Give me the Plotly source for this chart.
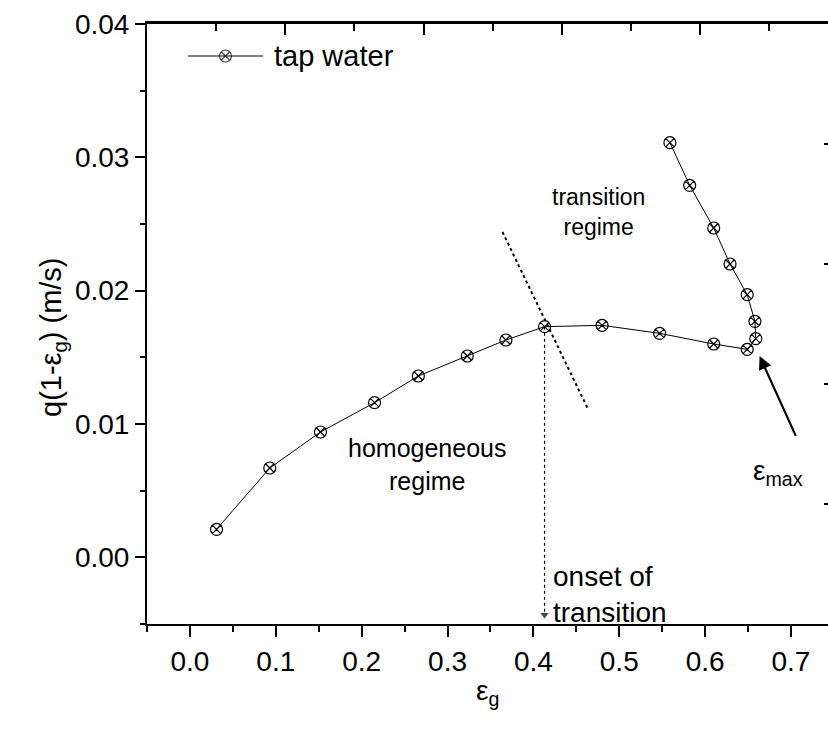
import plotly.graph_objects as go

# Gas holdup and drift-flux data for tap water
eps_g = [0.031, 0.093, 0.152, 0.215, 0.266, 0.323, 0.368, 0.413, 0.480, 0.547,
         0.610, 0.649, 0.659, 0.658, 0.649, 0.629, 0.610, 0.582, 0.559]
q_flux = [0.0021, 0.0067, 0.0094, 0.0116, 0.0136, 0.0151, 0.0163, 0.0173, 0.0174, 0.0168,
          0.0160, 0.0156, 0.0164, 0.0177, 0.0197, 0.0220, 0.0247, 0.0279, 0.0311]

# Transition boundary (dotted) and onset marker
boundary_x = [0.364, 0.463]
boundary_y = [0.0244, 0.0112]
onset_x = 0.413
onset_y = 0.0173
x_ticks = [0.0, 0.1, 0.2, 0.3, 0.4, 0.5, 0.6, 0.7]
y_ticks = [0.00, 0.01, 0.02, 0.03, 0.04]

FONT = "Liberation Sans, Arial, sans-serif"
W, H = 828, 740
L, R, T, B = 147, 0, 24, 116

fig = go.Figure()

fig.add_trace(go.Scatter(
    x=eps_g, y=q_flux, mode="lines+markers",
    line=dict(color="black", width=1),
    marker=dict(symbol="circle-x-open", size=12, color="black", line=dict(width=1.2)),
    showlegend=False, cliponaxis=False,
))

fig.add_trace(go.Scatter(
    x=boundary_x, y=boundary_y, mode="lines",
    line=dict(color="black", width=2, dash="dot"), showlegend=False,
))

# onset of transition: dotted drop line ending in an arrowhead
fig.add_trace(go.Scatter(
    x=[onset_x, onset_x], y=[onset_y, -0.0043], mode="lines+markers",
    line=dict(color="black", width=1.2, dash="dot"),
    marker=dict(symbol=["circle", "triangle-down"], size=[0, 9], color="black"),
    showlegend=False, cliponaxis=False,
))

# legend sample drawn on a helper axis in the upper-left corner
fig.add_trace(go.Scatter(
    x=[0, 0.5, 1], y=[0, 0, 0], xaxis="x3", yaxis="y3", mode="lines+markers",
    line=dict(color="black", width=1),
    marker=dict(symbol="circle-x-open", size=[0, 12, 0], color="black", line=dict(width=1.2)),
    showlegend=False, cliponaxis=False,
))

pw = W - L - R
ph = H - T - B

def px_x(p):
    return (p - L) / pw

def px_y(p):
    return 1 - (p - T) / ph

annotations = [
    dict(text="tap water", x=px_x(272), y=px_y(56), xref="paper", yref="paper",
         xanchor="left", yanchor="middle", showarrow=False, font=dict(size=29)),
    dict(text="transition<br>regime", x=0.476, y=0.0259, xref="x", yref="y",
         showarrow=False, font=dict(size=23)),
    dict(text="homogeneous<br>regime", x=0.276, y=0.0070, xref="x", yref="y",
         showarrow=False, font=dict(size=25)),
    dict(text="onset of<br>transition", x=0.421, y=-0.0028, xref="x", yref="y",
         xanchor="left", showarrow=False, align="left", font=dict(size=28)),
    dict(text="ε<sub>max</sub>", x=0.654, y=0.0064, xref="x", yref="y",
         xanchor="left", showarrow=False, font=dict(size=28)),
    dict(text="", x=0.6634, y=0.0151, ax=0.7064, ay=0.0090,
         xref="x", yref="y", axref="x", ayref="y",
         showarrow=True, arrowhead=2, arrowsize=1.2, arrowwidth=2.2, arrowcolor="black"),
    dict(text="ε<sub>g</sub>", x=0.5, y=px_y(712), xref="paper", yref="paper",
         showarrow=False, font=dict(size=28)),
    dict(text="q(1-ε<sub>g</sub>) (m/s)", x=px_x(33), y=px_y(337), xref="paper", yref="paper",
         textangle=-90, showarrow=False, font=dict(size=29)),
]

fig.update_layout(
    width=W, height=H,
    margin=dict(l=L, r=R, t=T, b=B),
    paper_bgcolor="white", plot_bgcolor="white",
    font=dict(family=FONT, color="black", size=28),
    xaxis=dict(
        range=[-0.05, 0.7431], tickvals=x_ticks, tickformat=".1f",
        ticks="outside", ticklen=11, tickwidth=1.5, tickcolor="black",
        minor=dict(dtick=0.05, tick0=0, ticks="outside", ticklen=6, tickwidth=1.5, tickcolor="black"),
        showline=True, linewidth=2, linecolor="black", showgrid=False, zeroline=False,
        tickfont=dict(size=28),
    ),
    yaxis=dict(
        range=[-0.005, 0.04], tickvals=y_ticks, tickformat=".2f",
        ticks="outside", ticklen=10, tickwidth=1.5, tickcolor="black",
        minor=dict(dtick=0.005, tick0=0, ticks="outside", ticklen=5, tickwidth=1.5, tickcolor="black"),
        showline=True, linewidth=2, linecolor="black", showgrid=False, zeroline=False,
        tickfont=dict(size=28),
    ),
    xaxis2=dict(
        overlaying="x", side="top", anchor="y", range=[0, pw / 138.3],
        dtick=1, tick0=0, ticks="inside", ticklen=11, tickwidth=1.5, tickcolor="black",
        minor=dict(dtick=0.5, tick0=0, ticks="inside", ticklen=7, tickwidth=1.5, tickcolor="black"),
        showline=True, linewidth=2.5, linecolor="black", showticklabels=False,
        showgrid=False, zeroline=False,
    ),
    yaxis2=dict(
        overlaying="y", side="right", anchor="x", range=[0, 5],
        dtick=1, tick0=0, ticks="inside", ticklen=4, tickwidth=1.5, tickcolor="black",
        showline=False, showticklabels=False, showgrid=False, zeroline=False,
    ),
    xaxis3=dict(domain=[px_x(188), px_x(263)], range=[0, 1], visible=False, anchor="y3"),
    yaxis3=dict(domain=[px_y(66), px_y(46)], range=[-1, 1], visible=False, anchor="x3"),
    annotations=annotations,
)

# empty traces so the secondary axes are drawn
fig.add_trace(go.Scatter(x=[None], y=[None], xaxis="x2", yaxis="y2", showlegend=False))

fig.write_html("out.html")
